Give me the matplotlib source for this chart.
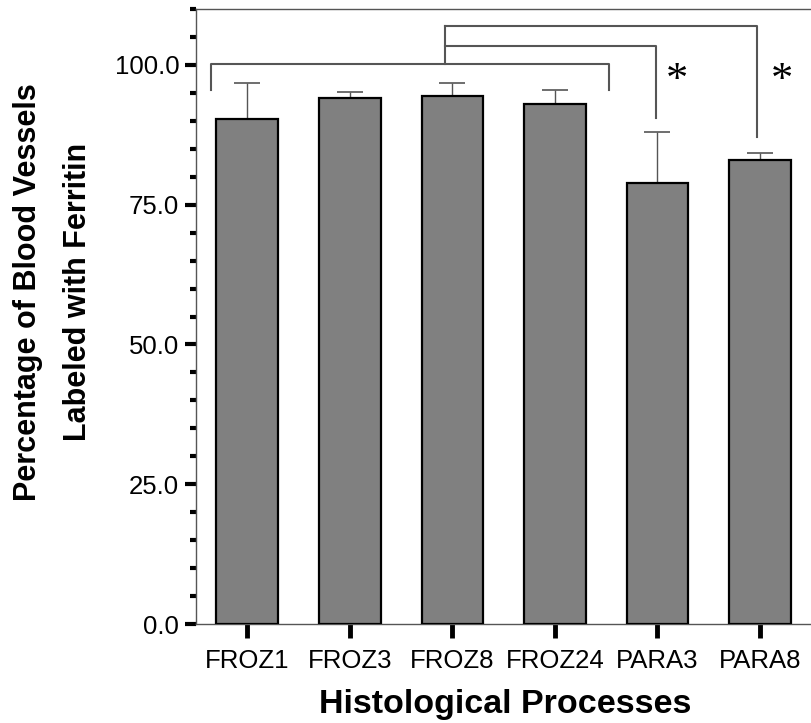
import matplotlib
matplotlib.use("Agg")
import matplotlib.pyplot as plt
import numpy as np

categories = ["FROZ1", "FROZ3", "FROZ8", "FROZ24", "PARA3", "PARA8"]
means = [90.3, 94.0, 94.4, 93.0, 78.9, 83.0]
errors = [6.5, 1.2, 2.4, 2.6, 9.1, 1.2]
yticks = [0.0, 25.0, 50.0, 75.0, 100.0]

plt.rcParams['font.family'] = ['Liberation Sans', 'DejaVu Sans']

fig = plt.figure(figsize=(8.12, 7.23), dpi=100)
ax = fig.add_axes([196/812, 99/723, 615/812, 615/723])

x = np.arange(len(categories))
ax.bar(x, means, width=0.6, color='#808080', edgecolor='black', linewidth=1.6, zorder=3)
ax.errorbar(x, means, yerr=[np.zeros(len(errors)), errors], fmt='none',
            ecolor='#555555', elinewidth=1.0, capsize=9.5, capthick=1.2, zorder=2)

ax.set_xlim(-0.5, 5.5)
ax.set_ylim(0, 110)
ax.set_yticks(yticks)
ax.set_yticklabels([f"{v:.1f}" for v in yticks])
ax.set_yticks(np.arange(0, 111, 5), minor=True)
ax.set_xticks(x)
ax.set_xticklabels(categories)

ax.tick_params(axis='y', which='major', length=8, width=3, labelsize=18.5, pad=4)
ax.tick_params(axis='y', which='minor', length=4, width=3)
ax.tick_params(axis='x', which='major', length=10, width=3.5, labelsize=18.5, pad=8)

for s in ['left', 'bottom', 'top']:
    ax.spines[s].set_color('#555555')
    ax.spines[s].set_linewidth(1.0)
ax.spines['right'].set_visible(False)

lc = '#555555'
lw = 1.5
# bracket 1 over FROZ groups
ax.plot([-0.357, -0.357, 3.525, 3.525], [95.6, 100.1, 100.1, 95.6], color=lc, lw=lw, clip_on=False)
# stem
ax.plot([1.934, 1.934], [100.1, 106.9], color=lc, lw=lw, clip_on=False)
# bracket to PARA3
ax.plot([1.934, 3.99, 3.99], [103.4, 103.4, 90.5], color=lc, lw=lw, clip_on=False)
# bracket to PARA8
ax.plot([1.934, 4.97, 4.97], [106.9, 106.9, 87.1], color=lc, lw=lw, clip_on=False)

ax.text(4.19, 97.2, "*", fontsize=32, family=['Liberation Serif'], ha='center', va='center')
ax.text(5.22, 97.2, "*", fontsize=32, family=['Liberation Serif'], ha='center', va='center')

fig.text(53/812, 1 - 292/723, "Percentage of Blood Vessels\nLabeled with Ferritin",
         rotation=90, ha='center', va='center', multialignment='center',
         fontsize=22, fontweight='bold', linespacing=1.9)
fig.text(505/812, 1 - 713/723, "Histological Processes", ha='center', va='baseline',
         fontsize=24.5, fontweight='bold')

fig.savefig("out.png", dpi=100)
